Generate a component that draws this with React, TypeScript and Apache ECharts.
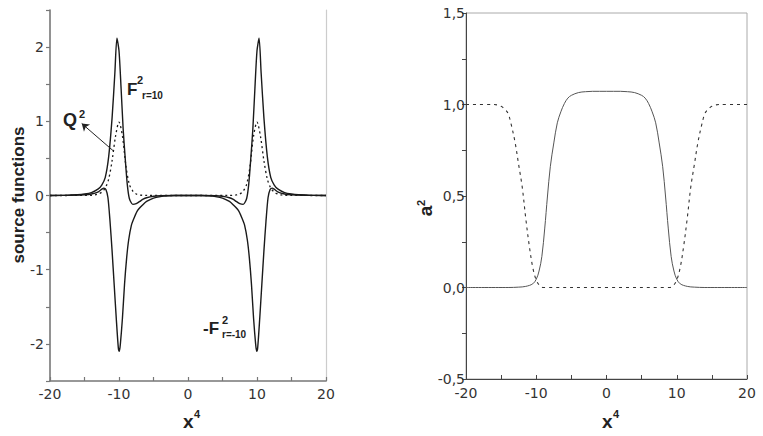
import React, { useEffect, useRef } from "react";
import * as echarts from "echarts";

// ---- Left panel: source functions ----
const fPosX = [-20, -18, -16, -15, -14, -13, -12.5, -12, -11.5, -11, -10.6, -10.3, -10, -9.7, -9.4, -9.1, -8.8, -8.5, -8, -7.5, -7, -6.5, -6, -5, -4, -2, 0,
  2, 4, 5, 6, 6.5, 7, 7.5, 8, 8.5, 8.8, 9.1, 9.4, 9.7, 10, 10.3, 10.6, 11, 11.5, 12, 12.5, 13, 14, 15, 16, 18, 20];
const fPosY = [0, 0.002, 0.01, 0.02, 0.04, 0.09, 0.14, 0.24, 0.52, 1.05, 1.65, 2.12, 1.95, 1.45, 0.9, 0.5, 0.15, -0.04, -0.12, -0.11, -0.08, -0.05, -0.03, -0.01, -0.003, 0, 0,
  0, -0.003, -0.01, -0.03, -0.05, -0.08, -0.11, -0.12, -0.04, 0.15, 0.5, 0.9, 1.45, 1.95, 2.12, 1.65, 1.05, 0.52, 0.24, 0.14, 0.09, 0.04, 0.02, 0.01, 0.002, 0];

const fNegX = [-20, -17, -15, -14, -13, -12.5, -12.2, -11.9, -11.6, -11.3, -11, -10.7, -10.4, -10.1, -9.95, -9.8, -9.5, -9.2, -8.9, -8.6, -8.2, -7.8, -7.3, -6.5, -6, -5, -4, -3, -2, 0,
  2, 3, 4, 5, 6, 6.5, 7.3, 7.8, 8.2, 8.6, 8.9, 9.2, 9.5, 9.8, 9.95, 10.1, 10.4, 10.7, 11, 11.3, 11.6, 11.9, 12.2, 12.5, 13, 14, 15, 17, 20];
const fNegY = [0, 0.003, 0.01, 0.02, 0.05, 0.085, 0.1, 0.08, -0.03, -0.35, -0.75, -1.2, -1.65, -2.05, -2.1, -2.0, -1.65, -1.2, -0.85, -0.6, -0.4, -0.3, -0.2, -0.12, -0.08, -0.035, -0.015, -0.005, 0, 0,
  0, -0.005, -0.015, -0.035, -0.08, -0.12, -0.2, -0.3, -0.4, -0.6, -0.85, -1.2, -1.65, -2.0, -2.1, -2.05, -1.65, -1.2, -0.75, -0.35, -0.03, 0.08, 0.1, 0.085, 0.05, 0.02, 0.01, 0.003, 0];

const qX = [-20, -15, -14, -13.5, -13, -12.5, -12, -11.5, -11, -10.5, -10, -9.5, -9, -8.5, -8, -7.5, -7, -6, 0,
  6, 7, 7.5, 8, 8.5, 9, 9.5, 10, 10.5, 11, 11.5, 12, 12.5, 13, 13.5, 14, 15, 20];
const qY = [0, 0.001, 0.003, 0.008, 0.02, 0.045, 0.1, 0.22, 0.47, 0.8, 0.99, 0.8, 0.4, 0.15, 0.06, 0.02, 0.007, 0.001, 0,
  0.001, 0.007, 0.02, 0.06, 0.15, 0.4, 0.8, 0.99, 0.8, 0.47, 0.22, 0.1, 0.045, 0.02, 0.008, 0.003, 0.001, 0];

// ---- Right panel: a^2 ----
const aSolidX = [-20, -14, -12.5, -11.5, -10.5, -10, -9.6, -9.2, -8.8, -8.4, -8, -7.5, -7, -6.5, -6, -5.5, -5, -4, -3, -2, 0,
  2, 3, 4, 5, 5.5, 6, 6.5, 7, 7.5, 8, 8.4, 8.8, 9.2, 9.6, 10, 10.5, 11.5, 12.5, 14, 20];
const aSolidY = [0, 0, 0.002, 0.006, 0.02, 0.045, 0.09, 0.17, 0.32, 0.5, 0.66, 0.79, 0.9, 0.96, 1.005, 1.035, 1.05, 1.065, 1.07, 1.072, 1.072,
  1.072, 1.07, 1.065, 1.05, 1.035, 1.005, 0.96, 0.9, 0.79, 0.66, 0.5, 0.32, 0.17, 0.09, 0.045, 0.02, 0.006, 0.002, 0, 0];

const aDotX = [-20, -16, -15, -14.5, -14, -13.5, -13, -12.5, -12, -11.5, -11, -10.5, -10, -9.5, -9, 0,
  9, 9.5, 10, 10.5, 11, 11.5, 12, 12.5, 13, 13.5, 14, 14.5, 15, 16, 20];
const aDotY = [1, 1, 0.99, 0.975, 0.95, 0.88, 0.79, 0.67, 0.55, 0.38, 0.23, 0.11, 0.04, 0.01, 0, 0,
  0, 0.01, 0.04, 0.11, 0.23, 0.38, 0.55, 0.67, 0.79, 0.88, 0.95, 0.975, 0.99, 1, 1];

const leftYMin = -2.5, leftYMax = 2.5;
const rightYMin = -0.5, rightYMax = 1.5;
const xMin = -20, xMax = 20;

const zip = (xs: number[], ys: number[]) => xs.map((x, i) => [x, ys[i]]);

const FONT = "'DejaVu Sans', 'Liberation Sans', Arial, sans-serif";
const BOLD = "'Liberation Sans', Arial, sans-serif";

export default function App() {
  const ref = useRef<HTMLDivElement>(null);
  useEffect(() => {
    if (!ref.current) return;
    const chart = echarts.init(ref.current, undefined, { renderer: "svg" });
    const txt = (text: string, x: number, y: number, size: number, extra: any = {}) => ({
      type: "text",
      x,
      y,
      rotation: extra.rotation || 0,
      style: {
        text,
        font: `bold ${size}px ${BOLD}`,
        fill: "#222",
        textAlign: extra.align || "left",
        textVerticalAlign: "middle",
      },
    });
    const option: any = {
      animation: false,
      backgroundColor: "#fff",
      grid: [
        { left: 50, top: 10, width: 276, height: 371, show: false },
        { left: 466, top: 13, width: 281, height: 366, show: true, borderColor: "#aaa", borderWidth: 1 },
      ],
      xAxis: [
        {
          gridIndex: 0, type: "value", min: xMin, max: xMax, interval: 5,
          axisLine: { onZero: false, lineStyle: { color: "#777", width: 1.6 } },
          axisTick: { inside: true, length: 4, lineStyle: { color: "#777", width: 1.2 } },
          axisLabel: { formatter: (v: number) => (v % 10 === 0 ? String(v) : ""), color: "#333", fontSize: 14, fontFamily: FONT, margin: 6 },
          splitLine: { show: false },
        },
        {
          gridIndex: 1, type: "value", min: xMin, max: xMax, interval: 5,
          axisLine: { onZero: false, lineStyle: { color: "#444", width: 1 } },
          axisTick: { inside: true, length: 4, lineStyle: { color: "#444" } },
          axisLabel: { formatter: (v: number) => (v % 10 === 0 ? String(v) : ""), color: "#333", fontSize: 14, fontFamily: FONT, margin: 7, lineHeight: 13 },
          splitLine: { show: false },
        },
      ],
      yAxis: [
        {
          gridIndex: 0, type: "value", min: leftYMin, max: leftYMax, interval: 0.5,
          axisLine: { show: true, onZero: false, lineStyle: { color: "#777", width: 1.6 } },
          axisTick: { show: true, inside: false, length: 4, lineStyle: { color: "#777", width: 1.2 } },
          axisLabel: { formatter: (v: number) => (Math.abs(v - Math.round(v)) < 1e-6 ? String(Math.round(v)) : ""), color: "#333", fontSize: 14, fontFamily: FONT, margin: 6 },
          splitLine: { show: false },
        },
        {
          gridIndex: 0, type: "value", min: leftYMin, max: leftYMax, position: "right",
          axisLine: { show: true, onZero: false, lineStyle: { color: "#ccc", width: 1.2 } },
          axisTick: { show: false }, axisLabel: { show: false }, splitLine: { show: false },
        },
        {
          gridIndex: 1, type: "value", min: rightYMin, max: rightYMax, interval: 0.25,
          axisLine: { show: true, onZero: false, lineStyle: { color: "#444", width: 1 } },
          axisTick: { show: true, inside: false, length: 4, lineStyle: { color: "#444" } },
          axisLabel: {
            formatter: (v: number) => (Math.abs(v * 2 - Math.round(v * 2)) < 1e-6 ? v.toFixed(1).replace(".", ",") : ""),
            color: "#333", fontSize: 14, fontFamily: FONT, margin: 1, lineHeight: 12,
          },
          splitLine: { show: false },
        },
      ],
      series: [
        {
          type: "line", xAxisIndex: 0, yAxisIndex: 0, data: zip(fPosX, fPosY), showSymbol: false, smooth: 0.25,
          lineStyle: { color: "#1a1a1a", width: 1.4 },
        },
        {
          type: "line", xAxisIndex: 0, yAxisIndex: 0, data: zip(fNegX, fNegY), showSymbol: false, smooth: 0.25,
          lineStyle: { color: "#1a1a1a", width: 1.4 },
        },
        {
          type: "line", xAxisIndex: 0, yAxisIndex: 0, data: zip(qX, qY), showSymbol: false, smooth: 0.3,
          lineStyle: { color: "#1a1a1a", width: 1.3, type: [2, 3] },
          markLine: {
            silent: true, symbol: ["none", "arrow"], symbolSize: 7,
            lineStyle: { color: "#222", width: 1, type: "solid" }, label: { show: false },
            data: [[{ coord: [-10.8, 0.6] }, { coord: [-15.4, 0.97] }]],
          },
        },
        {
          type: "line", xAxisIndex: 1, yAxisIndex: 2, data: zip(aSolidX, aSolidY), showSymbol: false, smooth: 0.35,
          lineStyle: { color: "#555", width: 1 },
        },
        {
          type: "line", xAxisIndex: 1, yAxisIndex: 2, data: zip(aDotX, aDotY), showSymbol: false, smooth: 0.35,
          lineStyle: { color: "#333", width: 1.1, type: [3, 4] },
        },
      ],
      graphic: [
        txt("source functions", 18, 195, 17, { rotation: Math.PI / 2, align: "center" }),
        txt("x", 183, 421, 19),
        txt("4", 194, 414, 11),
        txt("x", 602, 421, 19),
        txt("4", 613, 414, 11),
        txt("a", 425, 211, 19, { rotation: Math.PI / 2, align: "center" }),
        txt("2", 421, 203, 11, { rotation: Math.PI / 2, align: "center" }),
        txt("F", 127, 89, 17),
        txt("2", 137, 80, 11),
        txt("r=10", 142, 95, 10),
        txt("Q", 63, 120, 18),
        txt("2", 79, 114, 11),
        txt("-F", 203, 328, 17),
        txt("2", 222, 320, 11),
        txt("r=-10", 222, 334, 10),
      ],
    };
    chart.setOption(option);
    return () => chart.dispose();
  }, []);
  return <div ref={ref} style={{ position: "fixed", left: 0, top: 0, width: 763, height: 436 }} />;
}
